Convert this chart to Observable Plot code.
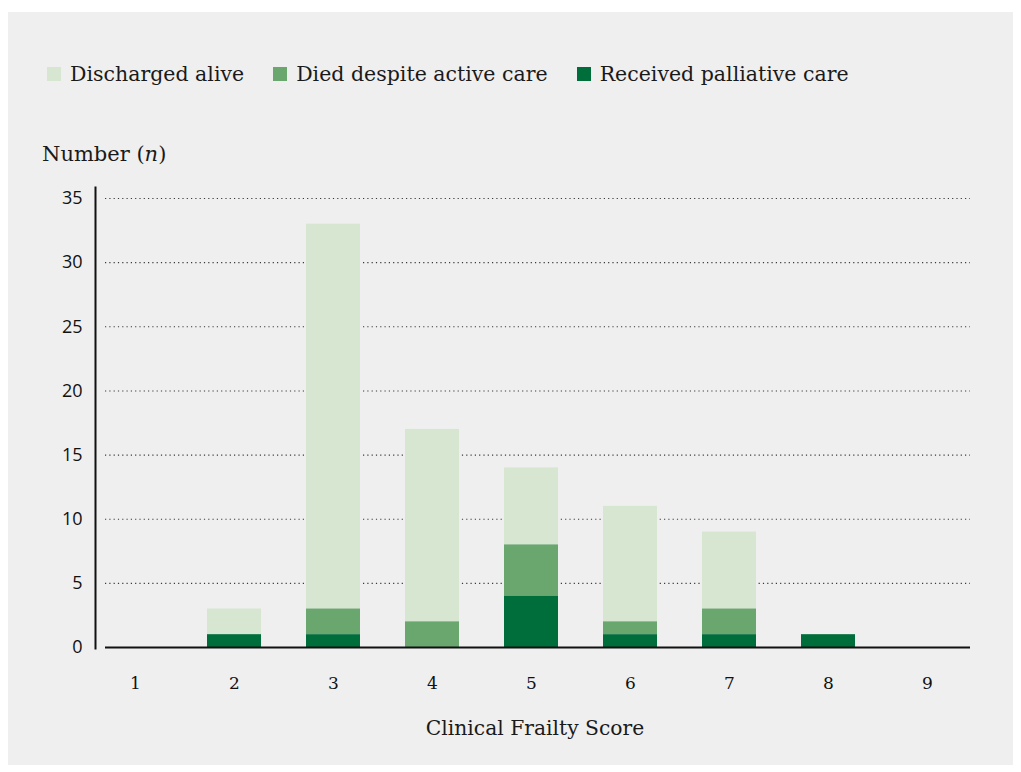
<!DOCTYPE html>
<html>
<head>
<meta charset="utf-8">
<script src="https://cdn.jsdelivr.net/npm/d3@7"></script>
<script src="https://cdn.jsdelivr.net/npm/@observablehq/plot@0.6"></script>
<style>
  html, body { margin: 0; padding: 0; background: #ffffff; }
  body { width: 1021px; height: 772px; position: relative; overflow: hidden; font-family: "DejaVu Serif", serif; color: #1a1a1a; }
  #panel { position: absolute; left: 8px; top: 12px; width: 1005px; height: 753px; background: #efefef; }
  #chart { position: absolute; left: 0; top: 0; }
  #legend { position: absolute; left: 47px; top: 62px; display: flex; align-items: center; font-size: 20.5px; white-space: nowrap; }
  .item { display: flex; align-items: center; margin-right: 29px; }
  .sw { width: 14px; height: 14px; margin-right: 9px; }
  #ylabel { position: absolute; left: 42px; top: 142px; font-size: 21px; white-space: nowrap; }
  #xlabel { position: absolute; left: 333px; width: 404px; text-align: center; top: 716px; font-size: 20.3px; white-space: nowrap; }
</style>
</head>
<body>
<div id="panel"></div>
<div id="chart"></div>
<div id="legend"></div>
<div id="ylabel">Number (<i>n</i>)</div>
<div id="xlabel">Clinical Frailty Score</div>
<script>
// ---- data ----
const scores = [1, 2, 3, 4, 5, 6, 7, 8, 9];
const discharged = [0, 2, 30, 15, 6, 9, 6, 0, 0];
const died = [0, 0, 2, 2, 4, 1, 2, 0, 0];
const palliative = [0, 1, 1, 0, 4, 1, 1, 1, 0];
const statuses = ["Discharged alive", "Died despite active care", "Received palliative care"];
const colors = ["#d7e6d0", "#6aa76f", "#006e3b"];
const yTicks = [0, 5, 10, 15, 20, 25, 30, 35];

const series = [discharged, died, palliative];
const rows = [];
scores.forEach((s, i) => {
  statuses.forEach((st, j) => {
    if (series[j][i] > 0) rows.push({score: s, status: st, n: series[j][i]});
  });
});

// legend
const legend = document.getElementById("legend");
statuses.forEach((st, j) => {
  const it = document.createElement("div");
  it.className = "item";
  const sw = document.createElement("div");
  sw.className = "sw";
  sw.style.background = colors[j];
  const t = document.createElement("span");
  t.textContent = st;
  it.appendChild(sw); it.appendChild(t);
  legend.appendChild(it);
});

const chart = Plot.plot({
  width: 1021,
  height: 772,
  marginLeft: 95,
  marginRight: 51,
  marginTop: 187,
  marginBottom: 125,
  style: {background: "transparent", fontFamily: "DejaVu Serif, serif", color: "#1a1a1a"},
  x: {type: "band", domain: scores, paddingInner: 0.452, paddingOuter: 0.132, align: 0.46},
  y: {domain: [0, 35.86]},
  color: {domain: statuses, range: colors},
  marks: [
    Plot.ruleY(yTicks.filter(d => d > 0), {insetLeft: 10, stroke: "#3a3a3a", strokeWidth: 1.1, strokeDasharray: "1.2,3.1"}),
    Plot.barY(rows, {x: "score", y: "n", fill: "status", order: ["Received palliative care", "Died despite active care", "Discharged alive"]}),
    Plot.ruleY([0], {insetLeft: 10, stroke: "#111", strokeWidth: 2}),
    Plot.frame({anchor: "left", stroke: "#111", strokeWidth: 2, insetBottom: -1}),
    Plot.axisY({ticks: yTicks, tickSize: 0, tickPadding: 13, label: null, fontSize: 18, fontFamily: "Open Sans, sans-serif", fill: "#111"}),
    Plot.axisX({tickSize: 0, tickPadding: 29, label: null, fontSize: 17, fontFamily: "DejaVu Serif, serif", fill: "#111"})
  ]
});
document.getElementById("chart").appendChild(chart);
</script>
</body>
</html>
